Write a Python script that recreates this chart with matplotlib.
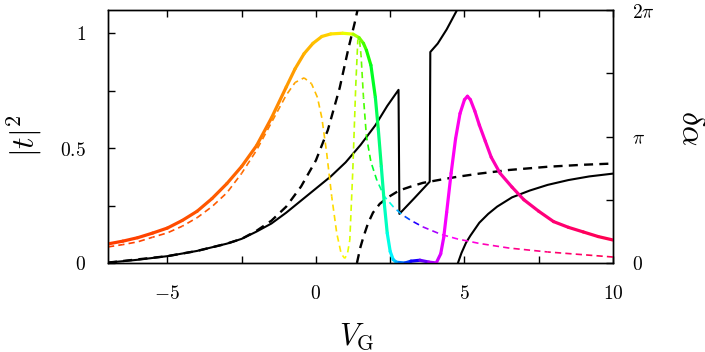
import numpy as np
import matplotlib
matplotlib.use('Agg')
import matplotlib.pyplot as plt
from matplotlib.collections import LineCollection
from matplotlib.colors import hsv_to_rgb

plt.rcParams['mathtext.fontset'] = 'cm'
plt.rcParams['lines.scale_dashes'] = False

# transmission |t|^2 (solid, coloured)
vg_t = [-7, -6.5, -6, -5.5, -5, -4.5, -4, -3.5, -3, -2.5, -2, -1.5, -1, -0.7, -0.4,
        -0.1, 0.2, 0.5, 0.9, 1.25, 1.45, 1.6, 1.7, 1.85, 2.0, 2.1, 2.2, 2.3, 2.4,
        2.5, 2.6, 2.7, 2.8, 3.0, 3.2, 3.5, 3.8, 4.05, 4.2, 4.3, 4.4, 4.55, 4.7,
        4.85, 5.0, 5.1, 5.2, 5.35, 5.5, 5.7, 5.9, 6.2, 6.6, 7.0, 7.5, 8.0, 8.5,
        9.0, 9.5, 10]
t2 = [0.083, 0.095, 0.11, 0.13, 0.152, 0.185, 0.225, 0.28, 0.345, 0.42, 0.51, 0.63,
      0.765, 0.845, 0.91, 0.955, 0.985, 0.996, 0.999, 0.995, 0.98, 0.955, 0.925,
      0.86, 0.72, 0.58, 0.42, 0.26, 0.13, 0.05, 0.015, 0.004, 0.002, 0.0, 0.008,
      0.012, 0.004, 0.0, 0.04, 0.11, 0.22, 0.39, 0.54, 0.65, 0.71, 0.725, 0.71,
      0.66, 0.6, 0.53, 0.46, 0.39, 0.33, 0.275, 0.225, 0.18, 0.155, 0.135, 0.115,
      0.1]

# second transmission curve (dashed, coloured)
vg_d = [-7, -6.5, -6, -5.5, -5, -4.5, -4, -3.5, -3, -2.5, -2, -1.5, -1, -0.7, -0.4,
        -0.15, 0.05, 0.2, 0.36, 0.53, 0.7, 0.85, 0.97, 1.06, 1.14, 1.24, 1.34, 1.41,
        1.46, 1.52, 1.6, 1.7, 1.85, 2.05, 2.3, 2.6, 2.9, 3.2, 3.6, 4.2, 4.75, 5.5,
        6.5, 7.8, 9.0, 10]
t2_d = [0.07, 0.08, 0.092, 0.112, 0.131, 0.16, 0.197, 0.245, 0.305, 0.39, 0.49,
        0.61, 0.73, 0.785, 0.805, 0.78, 0.72, 0.63, 0.48, 0.29, 0.13, 0.04, 0.02,
        0.04, 0.1, 0.4, 0.77, 0.97, 0.98, 0.9, 0.72, 0.55, 0.44, 0.36, 0.29, 0.245,
        0.21, 0.185, 0.157, 0.125, 0.105, 0.085, 0.065, 0.048, 0.036, 0.026]

# phase delta alpha (solid black), two branches
vg_p1 = [-7, -6, -5, -4, -3, -2.5, -2, -1.5, -1, -0.5, 0, 0.5, 1.0, 1.5, 2.0, 2.4,
         2.78, 2.81, 3.3, 3.83, 3.85, 4.1, 4.4, 4.75]
ph1 = [0.01, 0.08, 0.17, 0.3, 0.48, 0.6, 0.78, 0.98, 1.25, 1.55, 1.85, 2.15, 2.5,
       2.93, 3.42, 3.9, 4.3, 1.22, 1.6, 2.02, 5.24, 5.45, 5.8, 6.283]
vg_p2 = [4.78, 4.9, 5.05, 5.2, 5.5, 5.8, 6.1, 6.6, 7.2, 7.8, 8.5, 9.2, 10]
ph2 = [0.0, 0.25, 0.5, 0.68, 1.0, 1.22, 1.4, 1.63, 1.8, 1.94, 2.06, 2.15, 2.22]

# phase (dashed black), two branches
vg_q1 = [-7, -5, -4, -3, -2.5, -2, -1.5, -1.0, -0.5, 0.0, 0.4, 0.8, 1.1, 1.3, 1.4]
ph_q1 = [0.01, 0.17, 0.3, 0.48, 0.6, 0.8, 1.05, 1.4, 1.9, 2.55, 3.3, 4.35, 5.35,
         5.95, 6.283]
vg_q2 = [1.38, 1.5, 1.6, 1.75, 1.92, 2.15, 2.4, 2.8, 3.2, 3.6, 4.2, 4.75, 5.5,
         6.5, 7.8, 9.0, 10]
ph_q2 = [0.0, 0.4, 0.65, 0.98, 1.25, 1.47, 1.62, 1.8, 1.9, 1.99, 2.07, 2.14, 2.22,
         2.31, 2.39, 2.44, 2.47]

# colour (hue in degrees) along V_G
hue_x = [-7, -5, -3, -1.5, -0.5, 0.5, 0.9, 1.3, 1.6, 2.0, 2.4, 2.7, 3.0, 3.5, 4.0,
         4.4, 5.5, 7, 10]
hue_deg = [14, 17, 22, 30, 40, 50, 57, 75, 100, 135, 170, 195, 220, 255, 285, 300,
           312, 328, 342]


def seg_colors(x):
    xm = 0.5 * (np.asarray(x[:-1]) + np.asarray(x[1:]))
    h = np.interp(xm, hue_x, hue_deg) / 360.0
    return hsv_to_rgb(np.column_stack([h, np.ones_like(h), np.ones_like(h)]))


def segments(x, y):
    p = np.column_stack([x, y])
    return np.stack([p[:-1], p[1:]], axis=1)


fig = plt.figure(figsize=(7.05, 3.52), dpi=100)
ax = fig.add_axes([108 / 705, 89 / 352, 505 / 705, 253 / 352])
ax.set_xlim(-7, 10)
ax.set_ylim(0, 1.1)
ax2 = ax.twinx()
ax2.set_ylim(0, 2 * np.pi)
ax.set_zorder(ax2.get_zorder() + 1)
ax.patch.set_visible(False)

# black phase curves
ax2.plot(vg_p1, ph1, color='black', lw=1.5)
ax2.plot(vg_p2, ph2, color='black', lw=1.5)
ax2.plot(vg_q1, ph_q1, color='black', lw=1.7, ls=(0, (6.5, 4.5)))
ax2.plot(vg_q2, ph_q2, color='black', lw=1.7, ls=(0, (6.5, 4.5)))

# coloured dashed, keep dash pattern continuous
on, off = 4.5, 3.0
pix = ax.transData.transform(np.column_stack([vg_d, t2_d])) * 72.0 / fig.dpi
seglen = np.hypot(np.diff(pix[:, 0]), np.diff(pix[:, 1]))
cum = np.concatenate([[0], np.cumsum(seglen)[:-1]]) % (on + off)
styles = [(c, (on, off)) for c in cum]
lc_d = LineCollection(segments(vg_d, t2_d), colors=seg_colors(vg_d), linewidths=1.2,
                      linestyles=styles)
ax.add_collection(lc_d)

# coloured solid
lc = LineCollection(segments(vg_t, t2), colors=seg_colors(vg_t), linewidths=2.3,
                    capstyle='round', joinstyle='round')
ax.add_collection(lc)

ax.set_xticks([-5, -2.5, 0, 2.5, 5, 7.5, 10])
ax.set_xticklabels(['$-5$', '', '$0$', '', '$5$', '', '$10$'])
ax.set_yticks([0, 0.25, 0.5, 0.75, 1])
ax.set_yticklabels(['$0$', '', '$0.5$', '', '$1$'])
ax.tick_params(axis='x', direction='in', top=True, length=5, width=1, labelsize=14, pad=15)
ax.tick_params(axis='y', direction='in', left=True, right=False, length=5, width=1,
               labelsize=14, pad=16)
ax2.set_yticks([0, np.pi / 2, np.pi, 3 * np.pi / 2, 2 * np.pi])
ax2.set_yticklabels(['$0$', '', '$\\pi$', '', '$2\\pi$'])
ax2.tick_params(axis='y', direction='in', length=5, width=1, labelsize=14, pad=14)
for a in (ax, ax2):
    for s in a.spines.values():
        s.set_linewidth(1.0)

fig.text(25 / 705, 1 - 136 / 352, '$|t|^2$', rotation=90, ha='center', va='center',
         fontsize=23)
fig.text(357 / 705, 1 - 337 / 352, '$V_\\mathrm{G}$', ha='center', va='center',
         fontsize=22)
fig.text(690 / 705, 1 - 128 / 352, '$\\delta\\alpha$', rotation=-90, ha='center',
         va='center', fontsize=23)

fig.savefig('out.png', dpi=100)
